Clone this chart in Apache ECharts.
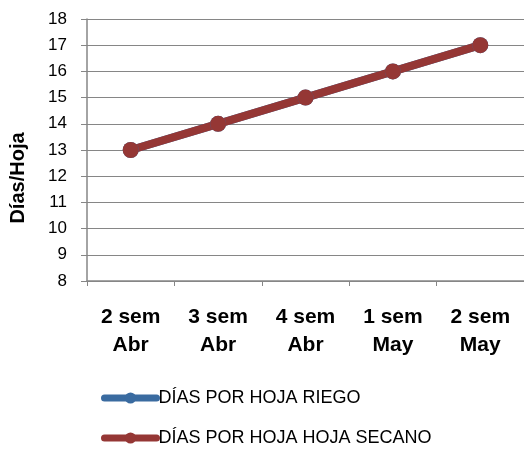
<!DOCTYPE html>
<html><head><meta charset="utf-8">
<script src="https://cdn.jsdelivr.net/npm/echarts@6/dist/echarts.min.js"></script>
<style>html,body{margin:0;padding:0;background:#fff}#c{width:524px;height:451px}</style>
</head><body><div id="c"></div>
<script>
const categories = ["2 sem\nAbr", "3 sem\nAbr", "4 sem\nAbr", "1 sem\nMay", "2 sem\nMay"];
const riego = [13, 14, 15, 16, 17];
const secano = [13, 14, 15, 16, 17];
const seriesNames = ["DÍAS POR HOJA RIEGO", "DÍAS POR HOJA HOJA SECANO"];
const yAxisName = "Días/Hoja";

const font = "Liberation Sans, Arial, sans-serif";
const chart = echarts.init(document.getElementById('c'));
chart.setOption({
  animation: false,
  textStyle: {fontFamily: font},
  grid: {left: 86, right: -2, top: 19, bottom: 170},
  legend: {
    orient: 'vertical', left: 101, top: 388, padding: 0,
    itemWidth: 52, itemHeight: 14, itemGap: 20,
    lineStyle: {width: 7, cap: 'round'},
    textStyle: {fontSize: 18, lineHeight: 20, color: '#000', fontFamily: font, padding: [0,0,0,-3]},
    data: seriesNames
  },
  xAxis: {
    type: 'category', data: categories, boundaryGap: true,
    axisLine: {lineStyle: {color: '#868686', width: 1.5}},
    axisTick: {show: true, length: 5, lineStyle: {color: '#868686'}},
    axisLabel: {fontSize: 21, fontWeight: 'bold', color: '#000', lineHeight: 28, margin: 22, interval: 0}
  },
  yAxis: {
    type: 'value', min: 8, max: 18, interval: 1,
    name: yAxisName, nameLocation: 'middle', nameGap: 59, nameRotate: 90,
    nameTextStyle: {fontSize: 20, fontWeight: 'bold', color: '#000', padding: [0, 56, 0, 0]},
    axisLine: {show: true, lineStyle: {color: '#868686', width: 1.5}},
    axisTick: {show: true, length: 6, lineStyle: {color: '#868686'}},
    axisLabel: {fontSize: 17, color: '#000', margin: 20},
    splitLine: {lineStyle: {color: '#868686', width: 1.2}}
  },
  series: [
    {name: seriesNames[0], type: 'line', data: riego, symbol: 'circle', symbolSize: 16,
     lineStyle: {width: 8, color: '#3A6BA0', cap: 'round'}, itemStyle: {color: '#3A6BA0'}},
    {name: seriesNames[1], type: 'line', data: secano, symbol: 'circle', symbolSize: 16,
     lineStyle: {width: 8, color: '#953735', cap: 'round'}, itemStyle: {color: '#953735'}}
  ]
});
</script></body></html>
